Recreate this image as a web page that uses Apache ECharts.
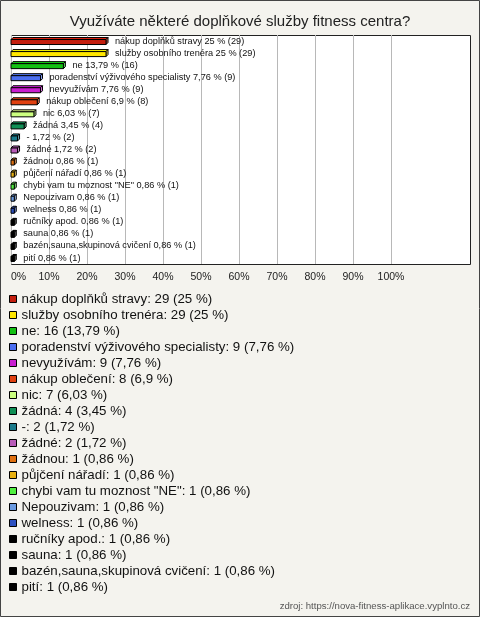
<!DOCTYPE html>
<html>
<head>
<meta charset="utf-8">
<script src="https://cdn.jsdelivr.net/npm/echarts@6/dist/echarts.min.js"></script>
<style>
html,body{margin:0;padding:0;background:#f4f3ee;}
#chart{width:480px;height:617px;}
</style>
</head>
<body>
<div id="chart"></div>
<script>
const categories = ['nákup doplňků stravy','služby osobního trenéra','ne','poradenství výživového specialisty','nevyužívám','nákup oblečení','nic','žádná','-','žádné','žádnou','půjčení nářadí','chybi vam tu moznost "NE"','Nepouzivam','welness','ručníky apod.','sauna','bazén,sauna,skupinová cvičení','pití'];
const counts = [29,29,16,9,9,8,7,4,2,2,1,1,1,1,1,1,1,1,1];
const percents = [25,25,13.79,7.76,7.76,6.9,6.03,3.45,1.72,1.72,0.86,0.86,0.86,0.86,0.86,0.86,0.86,0.86,0.86];
const tickValues = [0,10,20,30,40,50,60,70,80,90,100];
const colors = ['#c41e0e','#ffe600','#13c013','#4a6ef0','#c81ed0','#e04010','#ccff80','#0f8f55','#1a7a8a','#b85cb8','#e07010','#e8b010','#50f040','#6a9ae0','#2c50c0','#000000','#000000','#000000','#000000'];

const fmt = v => String(v).replace('.', ',');
const chart = echarts.init(document.getElementById('chart'), null, {renderer:'canvas'});

const D = 2; // depth of 3D bar
function renderBar(params, api) {
  const idx = api.value(1);
  const val = api.value(0);
  const p0 = api.coord([0, idx]);
  const p1 = api.coord([val, idx]);
  const h = 5;
  const x0 = p0[0], x1 = p1[0];
  const yTop = p0[1] - h/2 + 1, yBot = yTop + h;
  const c = api.visual('color');
  const top = echarts.color.lift(c, -0.15);
  const side = echarts.color.lift(c, 0.35);
  const i = params.seriesIndex;
  const label = categories[i] + ' ' + fmt(percents[i]) + ' % (' + counts[i] + ')';
  return {
    type: 'group',
    children: [
      {type:'polygon', shape:{points:[[x0,yTop],[x0+D,yTop-D],[x1+D,yTop-D],[x1,yTop]]}, style:{fill:top, stroke:'#000', lineWidth:1}},
      {type:'polygon', shape:{points:[[x1,yTop],[x1+D,yTop-D],[x1+D,yBot-D],[x1,yBot]]}, style:{fill:side, stroke:'#000', lineWidth:1}},
      {type:'rect', shape:{x:x0, y:yTop, width:x1-x0, height:h}, style:{fill:c, stroke:'#000', lineWidth:1}},
      {type:'text', style:{text:label, x:x1 + D + 7, y:p0[1], fill:'#111', font:'9.2px "Liberation Sans", Arial, sans-serif', verticalAlign:'middle', textAlign:'left'}}
    ]
  };
}

const series = categories.map((name, i) => ({
  name: name,
  type: 'custom',
  renderItem: renderBar,
  itemStyle: {color: colors[i], borderColor:'#000', borderWidth:1},
  encode: {x:0, y:1},
  data: [[percents[i], i]],
  clip: false,
  z: 5
}));

chart.setOption({
  backgroundColor: '#f4f3ee',
  animation: false,
  textStyle: {fontFamily: '"Liberation Sans", Arial, sans-serif'},
  title: {
    text: 'Využíváte některé doplňkové služby fitness centra?',
    left: 'center', top: 9,
    textStyle: {fontSize: 15, fontWeight: 'normal', color: '#222', fontFamily: '"Liberation Sans", Arial, sans-serif'}
  },
  grid: {left: 11, top: 35, width: 380, height: 229, containLabel: false},
  xAxis: {
    type: 'value', min: 0, max: 100, interval: 10,
    axisLine: {show:false}, axisTick: {show:false},
    splitLine: {show:true, lineStyle:{color:'#b8b8b8', width:1}},
    axisLabel: {
      formatter: v => tickValues.includes(v) ? v + '%' : '',
      fontSize: 10.5, color: '#222', margin: 8,
      alignMinLabel: 'left'
    }
  },
  yAxis: {
    type: 'category', data: categories, inverse: true,
    axisLine:{show:false}, axisTick:{show:false}, axisLabel:{show:false}, splitLine:{show:false}
  },
  legend: {
    orient: 'vertical', left: 4, top: 286,
    icon: 'rect', itemWidth: 7, itemHeight: 7, itemGap: 0,
    itemStyle: {borderColor:'#000', borderWidth:1},
    textStyle: {fontSize: 13.3, color: '#111', lineHeight: 16},
    data: categories,
    formatter: name => {
      const i = categories.indexOf(name);
      return name + ': ' + counts[i] + ' (' + fmt(percents[i]) + ' %)';
    },
    selectedMode: false
  },
  graphic: [
    {type:'rect', z:-10, shape:{x:0.5, y:0.5, width:479, height:616}, style:{fill:'#f4f3ee', stroke:'#444', lineWidth:1}, silent:true},
    {type:'rect', z:-5, shape:{x:11.5, y:35.5, width:459, height:229}, style:{fill:'#ffffff', stroke:'#222', lineWidth:1}, silent:true},
    {type:'text', right: 10, top: 601, style:{text:'zdroj: https://nova-fitness-aplikace.vyplnto.cz', fill:'#555', font:'9.6px "Liberation Sans", Arial, sans-serif'}, silent:true}
  ],
  series: series
});
</script>
</body>
</html>
